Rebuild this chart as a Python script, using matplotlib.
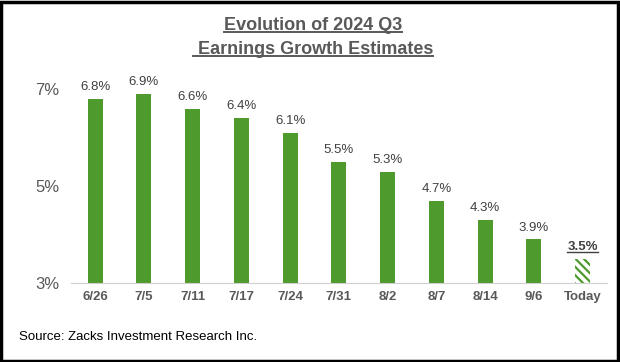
import matplotlib
matplotlib.use("Agg")
import matplotlib.pyplot as plt
from matplotlib.lines import Line2D
from matplotlib.patches import Rectangle

plt.rcParams['font.family'] = ['Liberation Sans', 'DejaVu Sans']
plt.rcParams['hatch.linewidth'] = 1.6

dates = ['6/26', '7/5', '7/11', '7/17', '7/24', '7/31', '8/2', '8/7', '8/14', '9/6', 'Today']
growth = [6.8, 6.9, 6.6, 6.4, 6.1, 5.5, 5.3, 4.7, 4.3, 3.9, 3.5]
yticks = [3, 5, 7]

green = '#4e9a2c'
gray = '#595959'

fig = plt.figure(figsize=(6.2, 3.62), dpi=100)
ax = fig.add_axes([0.114, 0.218, 0.865, 0.616])

base = 3
x = list(range(len(dates)))
for i, v in enumerate(growth):
    if dates[i] == 'Today':
        ax.bar(i, v - base, bottom=base, width=0.31, color='white',
               edgecolor=green, hatch='\\\\\\\\', linewidth=0)
        ax.text(i, v + 0.12, f'{v}%', ha='center', va='bottom', fontsize=9.5,
                color='#404040', fontweight='bold')
    else:
        ax.bar(i, v - base, bottom=base, width=0.31, color=green)
        ax.text(i, v + 0.12, f'{v}%', ha='center', va='bottom', fontsize=9.5,
                color='#404040')

ax.set_xlim(-0.5, len(dates) - 0.5)
ax.set_ylim(3, 7.6)
ax.set_yticks(yticks)
ax.set_yticklabels([f'{t}%' for t in yticks], fontsize=12, color=gray)
ax.set_xticks(x)
ax.set_xticklabels(dates, fontsize=9.5, color=gray, fontweight='bold')
ax.tick_params(length=0, axis='both')
ax.tick_params(axis='x', pad=6)
ax.tick_params(axis='y', pad=8)
for s in ['top', 'right', 'left']:
    ax.spines[s].set_visible(False)
ax.spines['bottom'].set_color('#d0d0d0')

t1 = fig.text(0.505, 0.918, 'Evolution of 2024 Q3', ha='center', va='baseline',
              fontsize=13, fontweight='bold', color=gray)
t2 = fig.text(0.505, 0.852, ' Earnings Growth Estimates', ha='center', va='baseline',
              fontsize=13, fontweight='bold', color=gray)
fig.text(0.03, 0.06, 'Source: Zacks Investment Research Inc.', fontsize=9.5, color='black')

fig.patches.append(Rectangle((0.002, 0.003), 0.994, 0.992, transform=fig.transFigure,
                             fill=False, edgecolor='black', linewidth=2.5))

# underline the title lines and the Today label
fig.canvas.draw()
r = fig.canvas.get_renderer()
H = fig.bbox.height
W = fig.bbox.width
for t in [t1, t2]:
    bb = t.get_window_extent(r)
    yb = bb.y0 + 1.5
    fig.lines.append(Line2D([bb.x0 / W, bb.x1 / W], [yb / H, yb / H],
                            transform=fig.transFigure, color=gray, linewidth=1.4))
lab = ax.texts[-1]
bb = lab.get_window_extent(r)
fig.lines.append(Line2D([bb.x0 / W, bb.x1 / W], [(bb.y0 + 1) / H, (bb.y0 + 1) / H],
                        transform=fig.transFigure, color='#404040', linewidth=1.0))

fig.savefig('out.png', dpi=100)
